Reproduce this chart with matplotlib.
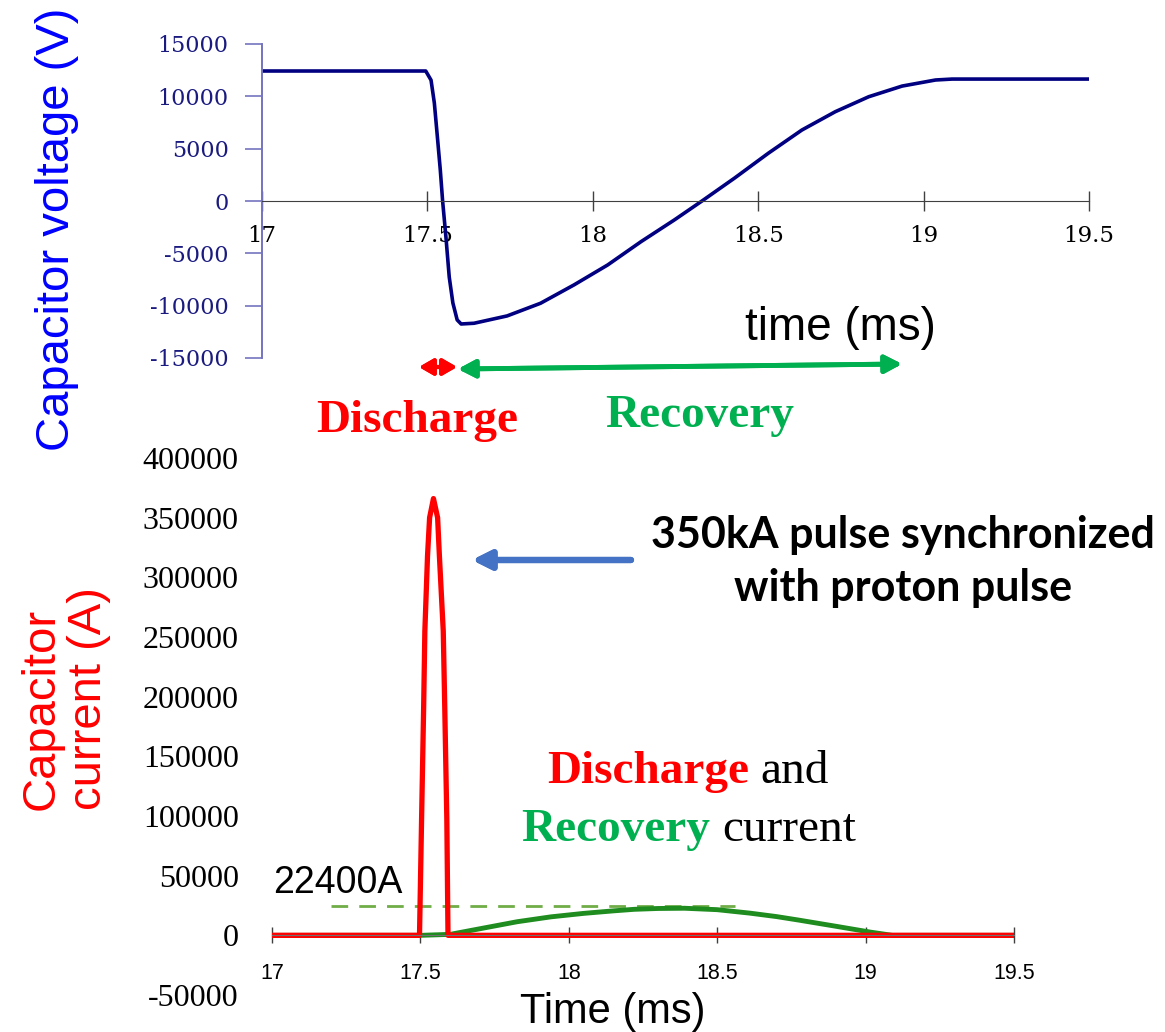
import matplotlib.pyplot as plt
import numpy as np

plt.rcParams['axes.unicode_minus'] = False

W, H = 1165, 1032

# capacitor voltage (V) against time (ms), top panel
v_time = [17.0, 17.495, 17.511, 17.521, 17.531, 17.539, 17.546, 17.556, 17.566,
          17.577, 17.590, 17.602, 17.641, 17.741, 17.842, 17.943, 18.045, 18.146,
          18.247, 18.330, 18.429, 18.530, 18.632, 18.733, 18.834, 18.935, 19.036,
          19.086, 19.5]
v_volt = [12420, 12420, 11550, 9360, 5830, 2960, 0, -3440, -7260,
          -9740, -11360, -11750, -11680, -10980, -9770, -8020, -6110, -3880,
          -1800, 0, 2200, 4550, 6780, 8530, 9960, 10980, 11560,
          11650, 11650]

# discharge current (A), red pulse
d_time = [17.0, 17.497, 17.504, 17.511, 17.515, 17.524, 17.531, 17.544,
          17.558, 17.564, 17.577, 17.582, 17.589, 17.593, 19.5]
d_cur = [0, 0, 97600, 192000, 255000, 318000, 350000, 366000,
         350000, 318000, 255000, 192000, 97600, 0, 0]

# recovery current (A), green
r_time = [17.0, 17.5, 17.6, 17.7, 17.826, 17.94, 18.05, 18.15, 18.22, 18.3,
          18.39, 18.5, 18.61, 18.7, 18.774, 18.895, 19.016, 19.09, 19.5]
r_cur = [0, 0, 800, 5500, 11400, 15500, 18400, 20500, 21800, 22500,
         22700, 21500, 18600, 15700, 12800, 7800, 2700, 0, 0]

# dashed level line for the recovery peak
level_time = [17.2, 18.56]
level_cur = [25000, 25000]

v_ticks = [-15000, -10000, -5000, 0, 5000, 10000, 15000]
i_ticks = [-50000, 0, 50000, 100000, 150000, 200000, 250000, 300000, 350000, 400000]
t_ticks = [17, 17.5, 18, 18.5, 19, 19.5]
t_labels = ['17', '17.5', '18', '18.5', '19', '19.5']

RED = '#ff0000'
GREEN = '#00b050'
SANS = 'Liberation Sans'
SERIF = 'Liberation Serif'


def fp(x, y):
    # pixel position (from top left) -> figure fraction
    return (x / W, 1 - y / H)


fig = plt.figure(figsize=(W / 100, H / 100), dpi=100)

# ---- top panel: voltage ----
ax1 = fig.add_axes([262 / W, 1 - 358 / H, (1089 - 262) / W, (358 - 44) / H])
ax1.plot(v_time, v_volt, color='#000080', lw=2.6)
ax1.set_xlim(17, 19.5)
ax1.set_ylim(-15000, 15000)
ax1.spines['top'].set_visible(False)
ax1.spines['right'].set_visible(False)
ax1.spines['bottom'].set_position(('data', 0))
ax1.spines['bottom'].set_color('#404040')
ax1.spines['left'].set_color('#7474c0')
ax1.spines['left'].set_linewidth(1.4)
ax1.set_xticks(t_ticks)
ax1.set_xticklabels(t_labels)
ax1.set_yticks(v_ticks)
ax1.tick_params(axis='x', direction='inout', length=14, width=1, color='#404040',
                pad=10, labelsize=16.5, labelcolor='black')
ax1.tick_params(axis='y', direction='out', length=12, width=1.2, color='#7474c0',
                pad=12, labelsize=16, labelcolor='#1a1a80')
for lab in ax1.get_xticklabels() + ax1.get_yticklabels():
    lab.set_family('DejaVu Serif')

# ---- bottom panel: current ----
ax2 = fig.add_axes([272 / W, 1 - 995 / H, (1014 - 272) / W, (995 - 458) / H])
ax2.plot(level_time, level_cur, color='#70ad47', lw=2, dashes=(6, 4))
ax2.plot(r_time, r_cur, color='#1e8c1e', lw=3.5)
ax2.plot(d_time, d_cur, color=RED, lw=3.8)
ax2.set_xlim(17, 19.5)
ax2.set_ylim(-50000, 400000)
for s in ['top', 'right', 'left']:
    ax2.spines[s].set_visible(False)
ax2.spines['bottom'].set_position(('data', 0))
ax2.spines['bottom'].set_color('#707070')
ax2.set_xticks(t_ticks)
ax2.set_xticklabels(t_labels)
ax2.set_yticks(i_ticks)
ax2.tick_params(axis='x', direction='inout', length=12, width=1, color='#404040',
                pad=14, labelsize=15.5, labelcolor='black')
ax2.tick_params(axis='y', length=0, pad=24, labelsize=23, labelcolor='black')
for lab in ax2.get_xticklabels():
    lab.set_family(SANS)
for lab in ax2.get_yticklabels():
    lab.set_family(SERIF)

# ---- axis titles ----
fig.text(*fp(57, 229), 'Capacitor voltage (V)', rotation=90, color='#0000ff',
         fontsize=34, family=SANS, ha='center', va='center')
fig.text(*fp(65, 699), 'Capacitor\ncurrent (A)', rotation=90, color=RED,
         fontsize=34, family=SANS, ha='center', va='center', multialignment='left',
         linespacing=1.1)
fig.text(*fp(840, 328), 'time (ms)', fontsize=33, family=SANS, ha='center', va='center')
fig.text(*fp(613, 1012), 'Time (ms)', fontsize=30, family=SANS, ha='center', va='center')

# ---- discharge / recovery arrows ----
fig.add_artist(plt.annotate('', xy=fp(457, 367), xytext=fp(419, 367),
                            xycoords='figure fraction', textcoords='figure fraction',
                            arrowprops=dict(arrowstyle='<|-|>,head_length=0.38,head_width=0.22',
                                            color=RED, lw=3, mutation_scale=22,
                                            shrinkA=0, shrinkB=0)))
fig.add_artist(plt.annotate('', xy=fp(902, 364), xytext=fp(458, 369),
                            xycoords='figure fraction', textcoords='figure fraction',
                            arrowprops=dict(arrowstyle='<|-|>,head_length=0.42,head_width=0.22',
                                            color=GREEN, lw=3.5, mutation_scale=24,
                                            shrinkA=0, shrinkB=0)))
fig.text(*fp(417, 432), 'Discharge', color=RED, fontsize=34, family=SERIF,
         weight='bold', ha='center', va='baseline')
fig.text(*fp(700, 427), 'Recovery', color=GREEN, fontsize=34, family=SERIF,
         weight='bold', ha='center', va='baseline')

# ---- bottom annotations ----
fig.text(*fp(903, 601), '350kA pulse synchronized\nwith proton pulse', fontsize=31,
         family='Lato', weight='bold', ha='center', va='baseline', linespacing=1.4)
fig.add_artist(plt.annotate('', xy=fp(472, 560), xytext=fp(631, 560),
                            xycoords='figure fraction', textcoords='figure fraction',
                            arrowprops=dict(arrowstyle='-|>', color='#4472c4', lw=4.5,
                                            mutation_scale=28, shrinkA=0, shrinkB=0)))

fig.text(*fp(749, 783), 'Discharge', color=RED, fontsize=34, family=SERIF,
         weight='bold', ha='right', va='baseline')
fig.text(*fp(760, 783), 'and', color='black', fontsize=34, family=SERIF,
         ha='left', va='baseline')
fig.text(*fp(710, 841), 'Recovery', color=GREEN, fontsize=34, family=SERIF,
         weight='bold', ha='right', va='baseline')
fig.text(*fp(722, 841), 'current', color='black', fontsize=34, family=SERIF,
         ha='left', va='baseline')
fig.text(*fp(273, 893), '22400A', fontsize=27, family=SANS, ha='left', va='baseline')

fig.savefig('out.png', dpi=100)
